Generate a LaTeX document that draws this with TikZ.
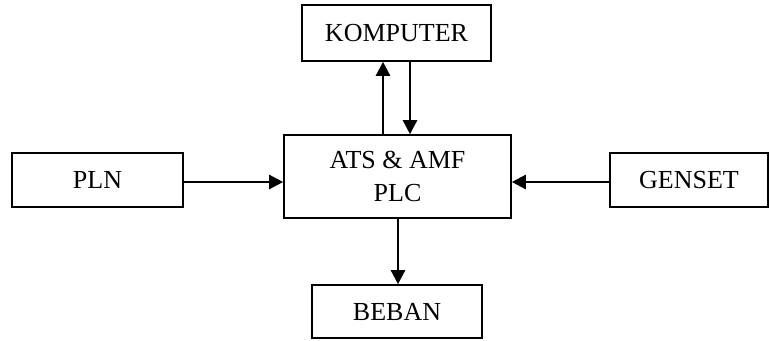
\documentclass[tikz,border=0pt]{standalone}
\usepackage{fontspec}
\setmainfont{Liberation Serif}
\usetikzlibrary{arrows.meta}
\begin{document}
\begin{tikzpicture}[x=1pt,y=-1pt,
  blk/.style={draw,line width=1.6pt,inner sep=0pt,align=center,
    font=\fontsize{26}{33}\selectfont},
  arr/.style={line width=2.4pt,-{Triangle[length=14pt,width=14pt]}}]
\useasboundingbox (0,0) rectangle (770,340);
\node[blk,minimum width=189pt,minimum height=56pt] (komp) at (396.5,33) {KOMPUTER};
\node[blk,minimum width=227pt,minimum height=83pt] (ats) at (397.5,176.5) {ATS \& AMF\\PLC};
\node[blk,minimum width=171pt,minimum height=54pt] (pln) at (97.5,180) {PLN};
\node[blk,minimum width=158pt,minimum height=54pt] (gen) at (689,180) {GENSET};
\node[blk,minimum width=170pt,minimum height=53pt] (beban) at (397,311.5) {BEBAN};
\draw[arr] ([yshift=-2pt]pln.east) -- ([yshift=-2pt]pln.east -| ats.west);
\draw[arr] ([yshift=-2pt]gen.west) -- ([yshift=-2pt]gen.west -| ats.east);
\draw[arr] ([xshift=-14.5pt]ats.north) -- ([xshift=-14.5pt]ats.north |- komp.south);
\draw[arr] ([xshift=12.5pt]ats.north |- komp.south) -- ([xshift=12.5pt]ats.north);
\draw[arr] ([xshift=0.5pt]ats.south) -- ([xshift=0.5pt]ats.south |- beban.north);
\end{tikzpicture}
\end{document}
